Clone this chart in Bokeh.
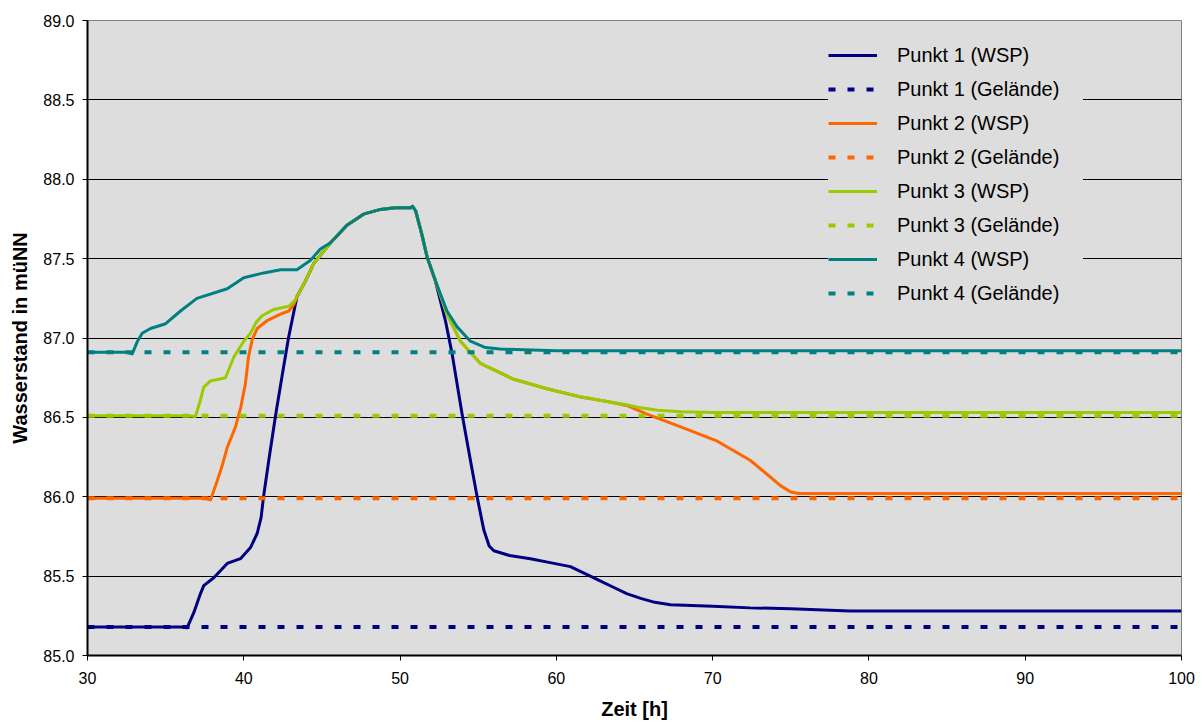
from bokeh.plotting import figure
from bokeh.models import Legend, LegendItem, FixedTicker, NumeralTickFormatter
from bokeh.embed import file_html
from bokeh.resources import INLINE

# --- data -------------------------------------------------------------
x_ticks = [30, 40, 50, 60, 70, 80, 90, 100]
y_ticks = [85.0, 85.5, 86.0, 86.5, 87.0, 87.5, 88.0, 88.5, 89.0]

labels = [
    "Punkt 1 (WSP)", "Punkt 1 (Gelände)",
    "Punkt 2 (WSP)", "Punkt 2 (Gelände)",
    "Punkt 3 (WSP)", "Punkt 3 (Gelände)",
    "Punkt 4 (WSP)", "Punkt 4 (Gelände)",
]

# ground levels (Gelände) in müNN
gelaende = [85.18, 85.99, 86.51, 86.91]
gelaende_t = [30, 100]

# water levels (WSP)
p1_t = [30, 36.0, 36.38, 36.8, 37.23, 37.44, 38.08, 38.94, 39.79, 40.43, 40.86,
        41.11, 41.25, 41.6, 42.03, 42.45, 42.86, 43.4, 43.95, 44.48, 45.55,
        46.6, 47.66, 48.75, 49.7, 50.67, 50.8, 51.0, 51.4, 51.73, 52.26, 52.9,
        53.33, 53.97, 54.5, 54.93, 55.36, 55.7, 56.0, 57.0, 58.34, 59.6, 60.9,
        61.97, 62.8, 63.65, 64.5, 65.4, 66.3, 67.3, 70.0, 72.4, 75.0, 78.8,
        80.0, 100]
p1_wsp = [85.18, 85.18, 85.175, 85.27, 85.39, 85.44, 85.49, 85.58, 85.61, 85.68,
          85.77, 85.87, 85.99, 86.23, 86.51, 86.76, 87.0, 87.26, 87.36, 87.47,
          87.60, 87.71, 87.78, 87.81, 87.82, 87.82, 87.83, 87.80, 87.65, 87.51,
          87.36, 87.11, 86.90, 86.52, 86.23, 86.0, 85.79, 85.69, 85.66, 85.63,
          85.61, 85.585, 85.56, 85.51, 85.47, 85.43, 85.39, 85.36, 85.335,
          85.32, 85.31, 85.30, 85.295, 85.28, 85.28, 85.28]

p2_t = [30, 37.5, 37.87, 38.3, 38.6, 38.94, 39.47, 39.8, 40.1, 40.3, 40.54,
        40.86, 41.5, 42.35, 42.88, 43.2, 43.4, 43.95, 44.48, 45.55, 46.6,
        47.66, 48.75, 49.7, 50.67, 50.8, 51.0, 51.4, 51.73, 52.26, 53.0, 53.86,
        55.14, 57.27, 59.4, 61.5, 63.25, 64.5, 65.8, 67.96, 70.3, 72.4, 73.5,
        74.34, 75.0, 75.5, 100]
p2_wsp = [85.99, 85.99, 85.98, 86.10, 86.19, 86.31, 86.44, 86.56, 86.71, 86.88,
          86.99, 87.06, 87.11, 87.15, 87.17, 87.21, 87.26, 87.36, 87.47, 87.60,
          87.71, 87.78, 87.81, 87.82, 87.82, 87.83, 87.80, 87.65, 87.51, 87.36,
          87.15, 86.98, 86.84, 86.74, 86.68, 86.63, 86.60, 86.575, 86.52, 86.44,
          86.35, 86.23, 86.14, 86.07, 86.03, 86.02, 86.02]

p3_t = [30, 36.5, 36.9, 37.2, 37.44, 37.87, 38.4, 38.83, 39.36, 40.0, 40.43,
        40.8, 41.17, 41.92, 42.88, 43.3, 43.95, 44.48, 45.55, 46.6, 47.66,
        48.75, 49.7, 50.67, 50.8, 51.0, 51.4, 51.73, 52.26, 53.0, 53.86, 55.14,
        57.27, 59.4, 61.5, 63.25, 64.5, 65.4, 66.5, 68.0, 70.0, 100]
p3_wsp = [86.51, 86.51, 86.505, 86.60, 86.69, 86.73, 86.74, 86.75, 86.88, 86.98,
          87.03, 87.10, 87.14, 87.18, 87.20, 87.24, 87.36, 87.47, 87.60, 87.71,
          87.78, 87.81, 87.82, 87.82, 87.83, 87.80, 87.65, 87.51, 87.36, 87.15,
          86.98, 86.84, 86.74, 86.68, 86.63, 86.60, 86.58, 86.56, 86.545,
          86.535, 86.53, 86.53]

p4_t = [30, 32.5, 32.86, 33.2, 33.5, 34.03, 35.0, 35.95, 37.0, 38.94, 40.0,
        41.28, 42.35, 43.4, 44.27, 44.9, 45.55, 46.6, 47.66, 48.75, 49.7,
        50.67, 50.8, 51.0, 51.4, 51.73, 52.26, 53.0, 53.65, 54.5, 55.46, 56.4,
        60.0, 100]
p4_wsp = [86.91, 86.91, 86.90, 86.98, 87.03, 87.06, 87.09, 87.17, 87.25, 87.31,
          87.38, 87.41, 87.43, 87.43, 87.49, 87.56, 87.60, 87.71, 87.78, 87.81,
          87.82, 87.82, 87.83, 87.80, 87.65, 87.51, 87.36, 87.17, 87.07, 86.98,
          86.94, 86.93, 86.92, 86.92]

colors = ["#000080", "#FF6600", "#99CC00", "#008080"]
FONT = "Liberation Sans"

# --- figure -----------------------------------------------------------
p = figure(width=1202, height=722, x_range=(30, 100), y_range=(85, 89),
           output_backend="svg", toolbar_location=None,
           min_border_left=87, min_border_right=21,
           min_border_top=20, min_border_bottom=67)
p.background_fill_color = "#dddddd"
p.border_fill_color = "white"
p.outline_line_color = "#808080"
p.outline_line_width = 1

p.xgrid.visible = False
p.ygrid.ticker = FixedTicker(ticks=y_ticks)
p.ygrid.grid_line_color = "black"
p.ygrid.grid_line_width = 1

p.xaxis.ticker = FixedTicker(ticks=x_ticks)
p.yaxis.ticker = FixedTicker(ticks=y_ticks)
p.yaxis.formatter = NumeralTickFormatter(format="0.0")

for ax in (p.xaxis[0], p.yaxis[0]):
    ax.axis_line_color = "black"
    ax.axis_line_width = 2
    ax.major_tick_line_color = "black"
    ax.major_tick_line_width = 1
    ax.major_tick_out = 5
    ax.major_tick_in = 0
    ax.minor_tick_line_color = None
    ax.major_label_text_font = FONT
    ax.major_label_text_font_size = "16px"
    ax.major_label_text_color = "black"
    ax.axis_label_text_font = FONT
    ax.axis_label_text_font_size = "20px"
    ax.axis_label_text_font_style = "bold"
    ax.axis_label_text_color = "black"

p.xaxis.axis_label = "Zeit [h]"
p.yaxis.axis_label = "Wasserstand in müNN"
p.xaxis.major_label_standoff = 11
p.yaxis.major_label_standoff = 8
p.xaxis.axis_label_standoff = 11
p.yaxis.axis_label_standoff = 9

series = [(p1_t, p1_wsp), (p2_t, p2_wsp), (p3_t, p3_wsp), (p4_t, p4_wsp)]
renderers = []
for (t, w), g, c in zip(series, gelaende, colors):
    r_w = p.line(t, w, line_color=c, line_width=3, line_join="round")
    r_g = p.line(gelaende_t, [g, g], line_color=c, line_width=4,
                 line_dash="7 12", line_cap="butt")
    renderers += [r_w, r_g]

items = [LegendItem(label=lab, renderers=[r]) for lab, r in zip(labels, renderers)]
legend = Legend(items=items, location=(741, 350),
                background_fill_color="#dddddd", background_fill_alpha=1.0,
                border_line_color=None,
                label_text_font=FONT, label_text_font_size="20px",
                label_text_color="black",
                glyph_width=49, glyph_height=24, label_height=24,
                label_width=186,
                spacing=10, padding=20, label_standoff=20, margin=0)
p.add_layout(legend)

open("out.html", "w").write(file_html(p, INLINE))
